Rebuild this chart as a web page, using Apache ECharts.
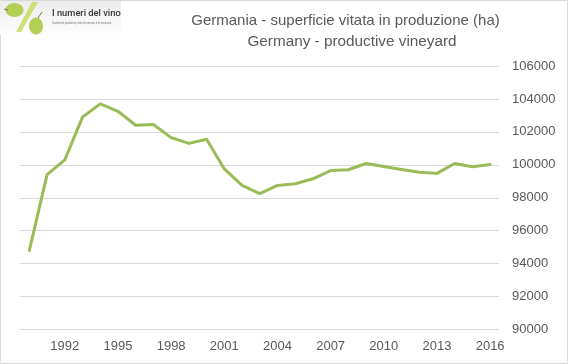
<!DOCTYPE html>
<html><head><meta charset="utf-8">
<style>html,body{margin:0;padding:0;background:#fff}#c{width:568px;height:364px}</style>
<script src="https://cdn.jsdelivr.net/npm/echarts@6/dist/echarts.min.js"></script>
</head><body><div id="c"></div>
<script>
const years = [1990,1991,1992,1993,1994,1995,1996,1997,1998,1999,2000,2001,2002,2003,2004,2005,2006,2007,2008,2009,2010,2011,2012,2013,2014,2015,2016];
const hectares = [94800,99400,100300,102900,103700,103250,102400,102450,101650,101300,101550,99750,98750,98250,98750,98850,99150,99650,99700,100080,99900,99720,99550,99480,100080,99880,100020];
const titleLines = ["Germania - superficie vitata in produzione (ha)","Germany - productive vineyard"];
const logoTitle = "I numeri del vino";
const logoSub = "Statistiche produttive, dati di mercato e di consumo";
const font = '"Liberation Sans", Arial, sans-serif';
const chart = echarts.init(document.getElementById('c'), null, {renderer:'canvas'});
chart.setOption({
  animation:false,
  backgroundColor:'#fff',
  grid:{left:20.5,right:69,top:66,bottom:34.5,containLabel:false},
  xAxis:{type:'category',data:years.map(String),boundaryGap:true,
    axisLine:{show:false},axisTick:{show:false},splitLine:{show:false},
    axisLabel:{color:'#595959',fontFamily:font,fontSize:13,margin:10,
      interval:(i)=>(i-2)%3===0 && i>=2}},
  yAxis:{type:'value',position:'right',min:90000,max:106000,interval:2000,
    axisLine:{show:false},axisTick:{show:false},
    splitLine:{lineStyle:{color:'#d9d9d9',width:1}},
    axisLabel:{color:'#595959',fontFamily:font,fontSize:13,margin:13,align:'left',formatter:(v)=>String(v)}},
  series:[{type:'line',data:hectares,symbol:'none',smooth:false,
    lineStyle:{color:'#9bbb59',width:3,cap:'round',join:'round'}}],
  graphic:[
    {type:'rect',silent:true,shape:{x:0.5,y:0.5,width:567,height:363},style:{fill:'none',stroke:'#d9d9d9',lineWidth:1}},
    {type:'rect',silent:true,shape:{x:0,y:1,width:121,height:34},
      style:{fill:new echarts.graphic.LinearGradient(0,0,0,1,[{offset:0,color:'#ececec'},{offset:1,color:'#ffffff'}])}},
    {type:'polygon',silent:true,shape:{points:[[16,32],[32,2],[38,2],[21,32]]},style:{fill:'#cfe07a'}},
    {type:'ellipse',silent:true,shape:{cx:14.5,cy:10,rx:9,ry:7},style:{fill:'#b4cf55'}},
    {type:'ellipse',silent:true,shape:{cx:36,cy:26,rx:7,ry:8.5},style:{fill:'#b4cf55'}},
    {type:'line',silent:true,shape:{x1:4,y1:9,x2:8,y2:10},style:{stroke:'#8a6d3b',lineWidth:1}},
    {type:'line',silent:true,shape:{x1:42,y1:12,x2:38,y2:18},style:{stroke:'#8a6d3b',lineWidth:1}},
    {type:'text',silent:true,style:{x:52,y:14,text:logoTitle,fill:'#333',font:'500 9.3px "Roboto", sans-serif',textVerticalAlign:'middle'}},
    {type:'text',silent:true,style:{x:52,y:23,text:logoSub,fill:'#777',font:'2.6px "Roboto", sans-serif',textVerticalAlign:'middle'}},
    {type:'text',silent:true,style:{x:345.5,y:21,text:titleLines[0],fill:'#595959',font:'15px '+font,textAlign:'center',textVerticalAlign:'middle'}},
    {type:'text',silent:true,style:{x:352,y:42,text:titleLines[1],fill:'#595959',font:'15.3px '+font,textAlign:'center',textVerticalAlign:'middle'}}
  ]
});
</script></body></html>
